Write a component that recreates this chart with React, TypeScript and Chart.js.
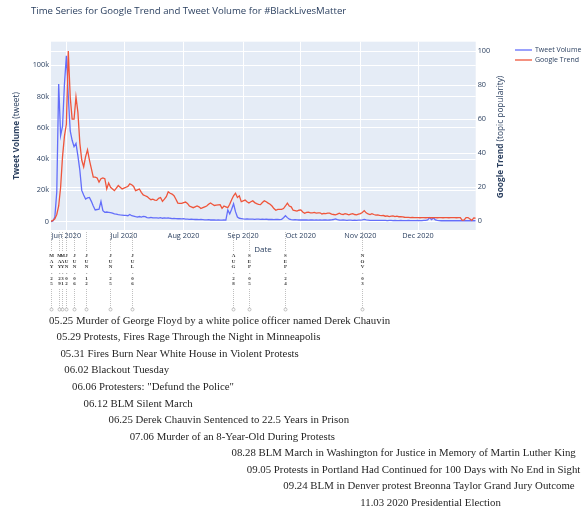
import React, { useEffect, useRef } from "react";
import { Chart, registerables } from "chart.js";

Chart.register(...registerables);

// ---------------- data ----------------
const startDate = "2020-05-24";

// Tweet volume, thousands of tweets per day (from 2020-05-24)
const tweetVolumeK = [
  0, 0.5, 3, 19, 88, 55, 61, 88, 106, 80,
  58, 52, 48, 50, 42, 33, 20, 17, 14.5, 15.2,
  15.5, 13, 10, 7.5, 7.8, 8, 13, 7, 6, 6.2,
  6, 5.8, 5.5, 5, 4.8, 4.5, 4.3, 4.2, 4, 4,
  3.8, 4.6, 3.8, 3.5, 3.2, 3, 3.3, 3, 3.4, 3.2,
  2.6, 2.5, 2.8, 2.4, 2.5, 2.5, 2.3, 2.6, 2.2, 2.4,
  2.3, 2.5, 2.2, 2, 2.1, 2, 1.9, 2, 1.8, 1.9,
  1.7, 1.6, 1.5, 1.6, 1.5, 1.4, 1.5, 1.3, 1.4, 1.3,
  1.2, 1.2, 1.3, 1.1, 1.2, 1.1, 1, 1.1, 1, 1,
  1.1, 1, 7.5, 5, 8, 11.4, 6.4, 3, 2.2, 2,
  1.8, 1.7, 1.8, 1.6, 1.7, 1.6, 1.5, 1.6, 1.7, 1.5,
  1.6, 1.5, 1.6, 1.4, 1.5, 1.4, 1.3, 1.5, 1.4, 1.3,
  1.5, 2.5, 3.8, 2.6, 1.6, 1.3, 1.2, 1.3, 1.2, 1.1,
  1.2, 1.1, 1.2, 1.1, 1, 1.1, 1.2, 1, 1.1, 1,
  1.1, 1, 1.2, 1.1, 1, 1.1, 1.2, 1.4, 1.8, 1.3,
  1.1, 1, 1.1, 1, 0.9, 1, 1, 0.9, 1, 0.9,
  1, 1, 1.2, 1.5, 1.1, 1, 0.9, 0.9, 0.8, 0.9,
  0.8, 0.8, 0.9, 0.8, 0.8, 0.7, 0.8, 0.8, 0.7, 0.8,
  0.7, 0.7, 0.8, 0.7, 0.7, 0.7, 0.8, 0.7, 0.7, 0.7,
  0.7, 0.8, 0.7, 0.7, 0.8, 0.9, 1.2, 2.6, 1.4, 2.4,
  1.2, 0.8, 0.7, 0.6, 0.7, 0.6, 0.6, 0.7, 0.6, 0.6,
  0.6, 0.6, 0.7, 0.6, 0.6, 0.6, 0.7, 0.6, 0.6, 0.6,
  0.6, 0.6,
];

// Google Trend, topic popularity (0-100), same days
const googleTrend = [
  0, 0.5, 1.5, 4, 9, 20, 38, 50, 57, 100,
  73, 60, 60, 73, 64, 46, 36, 32, 38, 42,
  36, 31, 26, 26, 25.5, 23, 25, 25.5, 25, 19,
  22.5, 20, 19, 18, 19.5, 21, 20, 19, 19.5, 20,
  20.5, 22, 21.5, 20.5, 18, 18.5, 19, 17, 15.5, 15,
  14.5, 13.5, 12.7, 13, 12.5, 12.3, 13.5, 14, 11.7, 13,
  14.5, 17.4, 16.5, 16, 15, 13, 10.7, 10.5, 10.5, 11,
  11.3, 10.5, 9, 8.5, 8, 8.5, 9, 8.5, 7.5, 8,
  8.5, 9, 10, 10.8, 10, 9.3, 9.5, 9.6, 9.7, 7.6,
  9, 8.5, 8, 10, 12.7, 15, 16.5, 14, 15, 11.5,
  12, 12.5, 11.5, 10.8, 11.5, 12, 11, 10.4, 10, 9.8,
  11, 12, 11.5, 10.7, 10, 9, 7.5, 6.5, 7, 7,
  7, 7.5, 9, 10.7, 9, 8.5, 6.5, 6.3, 6, 6.5,
  6.7, 5.5, 4.7, 5.2, 5.4, 5, 5, 5.2, 4.8, 5,
  5, 4.3, 4.6, 4.5, 4.8, 4.8, 4.2, 4, 3.8, 4.2,
  4.8, 4.2, 4, 4.5, 4.2, 3.8, 4.2, 4.5, 4, 3.8,
  4.2, 4.5, 5.2, 6.3, 5, 4.3, 4, 4.5, 4, 3.6,
  3.8, 3.5, 3.3, 3.4, 3, 3.2, 2.8, 3, 3.2, 2.8,
  3, 2.7, 2.8, 2.6, 2.4, 2.3, 2.3, 2.2, 2.3, 2.2,
  2.2, 2.2, 2.1, 2.2, 2.2, 2.1, 2.2, 2.2, 2.1, 2.2,
  2.2, 2.1, 2.2, 2.2, 2.1, 2.2, 2.2, 2.1, 2.2, 2.2,
  2.2, 2.1, 2.2, 2.2, 0.6, 0.8, 2.2, 2.2, 1.4, 0.6,
  2, 1.8,
];

const monthTickDates = ["2020-06-01", "2020-07-01", "2020-08-01", "2020-09-01", "2020-10-01", "2020-11-01", "2020-12-01"];
const monthTickLabels = ["Jun 2020", "Jul 2020", "Aug 2020", "Sep 2020", "Oct 2020", "Nov 2020", "Dec 2020"];
const tweetTickValues = [0, 20000, 40000, 60000, 80000, 100000];
const tweetTickLabels = ["0", "20k", "40k", "60k", "80k", "100k"];
const trendTickValues = [0, 20, 40, 60, 80, 100];
const trendTickLabels = ["0", "20", "40", "60", "80", "100"];

const eventDates = ["2020-05-25", "2020-05-29", "2020-05-31", "2020-06-02", "2020-06-06", "2020-06-12", "2020-06-25", "2020-07-06", "2020-08-28", "2020-09-05", "2020-09-24", "2020-11-03"];
const eventTags = ["MAY-25", "MAY-29", "MAY-31", "JUN-02", "JUN-06", "JUN-12", "JUN-25", "JUL-06", "AUG-28", "SEP-05", "SEP-24", "NOV-03"];
const eventTexts = [
  "05.25 Murder of George Floyd by a white police officer named Derek Chauvin",
  "05.29 Protests, Fires Rage Through the Night in Minneapolis",
  "05.31 Fires Burn Near White House in Violent Protests",
  "06.02 Blackout Tuesday",
  "06.06 Protesters: \"Defund the Police\"",
  "06.12 BLM Silent March",
  "06.25 Derek Chauvin Sentenced to 22.5 Years in Prison",
  "07.06 Murder of an 8-Year-Old During Protests",
  "08.28 BLM March in Washington for Justice in Memory of Martin Luther King",
  "09.05 Protests in Portland Had Continued for 100 Days with No End in Sight",
  "09.24 BLM in Denver protest Breonna Taylor Grand Jury Outcome",
  "11.03 2020 Presidential Election",
];

const titleText = "Time Series for Google Trend and Tweet Volume for #BlackLivesMatter";

// ---------------- helpers ----------------
const DAY_MS = 86400000;
const dayIndex = (d: string) =>
  Math.round((Date.parse(d + "T00:00:00Z") - Date.parse(startDate + "T00:00:00Z")) / DAY_MS);

const SANS = "'Open Sans', 'DejaVu Sans', sans-serif";
const SERIF = "'Liberation Serif', 'DejaVu Serif', serif";
const INK = "#2a3f5f";
const BLUE = "#636efa";
const RED = "#EF553B";

function drawRotated(ctx: CanvasRenderingContext2D, parts: [string, boolean][], cx: number, cy: number) {
  ctx.save();
  ctx.translate(cx, cy);
  ctx.rotate(-Math.PI / 2);
  ctx.textBaseline = "middle";
  ctx.textAlign = "left";
  const fonts = parts.map(([, b]) => `${b ? "bold " : ""}8.3px ${SANS}`);
  let total = 0;
  const widths = parts.map(([t], i) => {
    ctx.font = fonts[i];
    const w = ctx.measureText(t).width;
    total += w;
    return w;
  });
  let x = -total / 2;
  parts.forEach(([t], i) => {
    ctx.font = fonts[i];
    ctx.fillStyle = INK;
    ctx.fillText(t, x, 0);
    x += widths[i];
  });
  ctx.restore();
}

const decorPlugin = {
  id: "decor",
  beforeDraw(chart: any) {
    const { ctx, chartArea: a } = chart;
    ctx.save();
    ctx.fillStyle = "#E5ECF6";
    ctx.fillRect(a.left, a.top, a.right - a.left, a.bottom - a.top);
    ctx.restore();
  },
  afterDraw(chart: any) {
    const ctx: CanvasRenderingContext2D = chart.ctx;
    const xs = chart.scales.x;
    ctx.save();
    // title
    ctx.fillStyle = INK;
    ctx.font = `9.6px ${SANS}`;
    ctx.textBaseline = "middle";
    ctx.textAlign = "left";
    ctx.fillText(titleText, 31, 11);
    // x title
    ctx.font = `8px ${SANS}`;
    ctx.textAlign = "center";
    ctx.fillText("Date", 263, 250);
    // y titles
    drawRotated(ctx, [["Tweet Volume", true], [" (tweet)", false]], 17, 136);
    drawRotated(ctx, [["Google Trend", true], [" (topic popularity)", false]], 501, 137);
    // legend
    const legend: [string, string][] = [["Tweet Volume", BLUE], ["Google Trend", RED]];
    legend.forEach(([t, c], i) => {
      const y = 50 + i * 10;
      ctx.strokeStyle = c;
      ctx.lineWidth = 1.3;
      ctx.beginPath();
      ctx.moveTo(515, y);
      ctx.lineTo(532, y);
      ctx.stroke();
      ctx.fillStyle = INK;
      ctx.font = `7px ${SANS}`;
      ctx.textAlign = "left";
      ctx.textBaseline = "middle";
      ctx.fillText(t, 535, y);
    });
    // event markers
    eventDates.forEach((d, i) => {
      const px = Math.round(xs.getPixelForValue(dayIndex(d)) - 2) + 0.5;
      ctx.strokeStyle = "#b0b0b0";
      ctx.lineWidth = 0.8;
      ctx.setLineDash([1, 1]);
      ctx.beginPath();
      ctx.moveTo(px, 232);
      ctx.lineTo(px, 252);
      ctx.moveTo(px, 289);
      ctx.lineTo(px, 308);
      ctx.stroke();
      ctx.setLineDash([]);
      ctx.beginPath();
      ctx.arc(px, 309.5, 1.5, 0, Math.PI * 2);
      ctx.stroke();
      ctx.fillStyle = "#333";
      ctx.font = `bold 5px ${SERIF}`;
      ctx.textAlign = "center";
      ctx.textBaseline = "middle";
      eventTags[i].split("").forEach((ch, k) => {
        ctx.fillText(ch, px, 256 + k * 5.6);
      });
    });
    // event texts
    ctx.font = `10.8px ${SERIF}`;
    ctx.fillStyle = "#262626";
    ctx.textAlign = "left";
    ctx.textBaseline = "middle";
    eventTexts.forEach((t, i) => {
      const px = xs.getPixelForValue(dayIndex(eventDates[i])) - 4;
      const w = ctx.measureText(t).width;
      const x = Math.min(px, 583 - w);
      ctx.fillText(t, x, 321 + i * 16.55);
    });
    ctx.restore();
  },
};

export default function App() {
  const ref = useRef<HTMLCanvasElement>(null);
  useEffect(() => {
    if (!ref.current) return;
    const tweetPts = tweetVolumeK.map((v, i) => ({ x: i, y: v * 1000 }));
    const trendPts = googleTrend.map((v, i) => ({ x: i, y: v }));
    const monthTickIdx = monthTickDates.map(dayIndex);
    const chart = new Chart(ref.current, {
      type: "line",
      data: {
        datasets: [
          {
            label: "Tweet Volume",
            data: tweetPts,
            yAxisID: "y",
            borderColor: BLUE,
            backgroundColor: BLUE,
            borderWidth: 1.3,
            pointRadius: 0,
            tension: 0,
            order: 1,
          },
          {
            label: "Google Trend",
            data: trendPts,
            yAxisID: "y1",
            borderColor: RED,
            backgroundColor: RED,
            borderWidth: 1.3,
            pointRadius: 0,
            tension: 0,
            order: 0,
          },
        ],
      },
      options: {
        animation: false,
        responsive: false,
        devicePixelRatio: window.devicePixelRatio || 1,
        layout: { padding: { left: 0, right: 92.3, top: 41.7, bottom: 260 } },
        plugins: { legend: { display: false }, title: { display: false }, tooltip: { enabled: false } },
        scales: {
          x: {
            type: "linear",
            min: 0,
            max: tweetVolumeK.length - 1,
            afterBuildTicks: (s: any) => {
              s.ticks = monthTickIdx.map((v) => ({ value: v }));
            },
            afterFit: (s: any) => {
              s.height = 20;
            },
            ticks: {
              autoSkip: false,
              maxRotation: 0,
              padding: 2,
              color: INK,
              font: { family: SANS, size: 7.3 },
              callback: (v: any) => {
                const k = monthTickIdx.indexOf(Number(v));
                return k >= 0 ? monthTickLabels[k] : "";
              },
            },
            grid: { color: "#ffffff", lineWidth: 1, drawTicks: false },
            border: { display: false },
          },
          y: {
            type: "linear",
            position: "left",
            min: -5300,
            max: 115000,
            afterBuildTicks: (s: any) => {
              s.ticks = tweetTickValues.map((v) => ({ value: v }));
            },
            afterFit: (s: any) => {
              s.width = 51;
            },
            ticks: {
              padding: 2,
              color: INK,
              font: { family: SANS, size: 7.3 },
              callback: (v: any) => {
                const k = tweetTickValues.indexOf(Number(v));
                return k >= 0 ? tweetTickLabels[k] : "";
              },
            },
            grid: { color: "#ffffff", lineWidth: 1, drawTicks: false },
            border: { display: false },
          },
          y1: {
            type: "linear",
            position: "right",
            min: -5.1,
            max: 105.5,
            afterBuildTicks: (s: any) => {
              s.ticks = trendTickValues.map((v) => ({ value: v }));
            },
            afterFit: (s: any) => {
              s.width = 20;
            },
            ticks: {
              padding: 2,
              color: INK,
              font: { family: SANS, size: 7.3 },
              callback: (v: any) => {
                const k = trendTickValues.indexOf(Number(v));
                return k >= 0 ? trendTickLabels[k] : "";
              },
            },
            grid: { color: "#ffffff", lineWidth: 1, drawTicks: false, drawOnChartArea: true },
            border: { display: false },
          },
        },
      },
      plugins: [decorPlugin],
    } as any);
    return () => chart.destroy();
  }, []);
  return (
    <div style={{ position: "absolute", left: 0, top: 0, width: 588, height: 510, background: "#fff" }}>
      <canvas ref={ref} width={588} height={510} style={{ width: 588, height: 510, display: "block" }} />
    </div>
  );
}
